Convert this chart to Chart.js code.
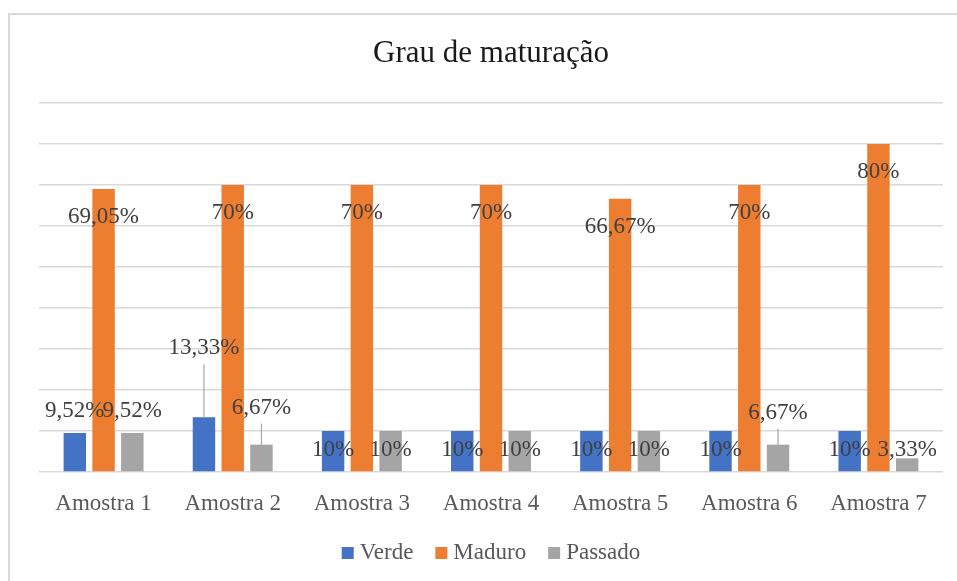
<!DOCTYPE html>
<html>
<head>
<meta charset="utf-8">
<script src="https://cdn.jsdelivr.net/npm/chart.js@4/dist/chart.umd.min.js"></script>
<style>
  html,body{margin:0;padding:0;background:#fff;}
  #wrap{width:957px;height:581px;}
</style>
</head>
<body>
<div id="wrap"><canvas id="chart" width="957" height="581"></canvas></div>
<script>
// dados
const amostras = ["Amostra 1","Amostra 2","Amostra 3","Amostra 4","Amostra 5","Amostra 6","Amostra 7"];
const verde   = [9.52, 13.33, 10, 10, 10, 10, 10];
const maduro  = [69.05, 70, 70, 70, 66.67, 70, 80];
const passado = [9.52, 6.67, 10, 10, 10, 6.67, 3.33];
const yTicks  = [0, 10, 20, 30, 40, 50, 60, 70, 80, 90];

// deslocamento do rótulo em relação ao topo da barra (px) e linha de chamada
const labelDy = [
  [-22, -69, 19, 19, 19, 19, 19],
  [28, 28, 28, 28, 28, 28, 28],
  [-22, -37, 19, 19, 19, -32, -8]
];
const leader = [
  [0,1,0,0,0,0,0],
  [0,0,0,0,0,0,0],
  [0,1,0,0,0,1,0]
];

const SERIF = "'Liberation Serif','Times New Roman',serif";
const fmt = v => Number.isInteger(v) ? v+"%" : v.toFixed(2).replace(".",",")+"%";

const extras = {
  id:"extras",
  beforeDraw(c){
    const ctx=c.ctx; ctx.save();
    ctx.fillStyle="#fff"; ctx.fillRect(0,0,c.width,c.height);
    ctx.strokeStyle="#d9d9d9"; ctx.lineWidth=2;
    ctx.strokeRect(9,14,1200,1200);
    ctx.restore();
  },
  afterDraw(c){
    const ctx=c.ctx, a=c.chartArea; ctx.save();
    // título
    ctx.fillStyle="#1a1a1a"; ctx.font="31px "+SERIF;
    ctx.textAlign="center"; ctx.textBaseline="middle";
    ctx.fillText("Grau de maturação",(a.left+a.right)/2,54);
    // rótulos de dados
    ctx.font="23px "+SERIF; ctx.fillStyle="#404040";
    c.data.datasets.forEach((ds,di)=>{
      c.getDatasetMeta(di).data.forEach((bar,i)=>{
        const y=bar.y+labelDy[di][i];
        if(leader[di][i]){
          ctx.strokeStyle="#a6a6a6"; ctx.lineWidth=1.2;
          ctx.beginPath(); ctx.moveTo(bar.x,y+16); ctx.lineTo(bar.x,bar.y); ctx.stroke();
        }
        ctx.fillText(fmt(ds.data[i]),bar.x,y);
      });
    });
    // legenda
    ctx.font="23px "+SERIF; ctx.textAlign="left";
    const box=12, gap=6, sep=22, ly=553;
    const ws=c.data.datasets.map(ds=>ctx.measureText(ds.label).width);
    const total=ws.reduce((s,w)=>s+box+gap+w,0)+sep*(ws.length-1);
    let x=(a.left+a.right)/2-total/2;
    c.data.datasets.forEach((ds,i)=>{
      ctx.fillStyle=ds.backgroundColor; ctx.fillRect(x,ly-6,box,box);
      x+=box+gap; ctx.fillStyle="#595959"; ctx.fillText(ds.label,x,ly);
      x+=ws[i]+sep;
    });
    ctx.restore();
  }
};

new Chart(document.getElementById("chart"),{
  type:"bar",
  data:{ labels:amostras, datasets:[
    {label:"Verde", data:verde, backgroundColor:"#4472C4"},
    {label:"Maduro", data:maduro, backgroundColor:"#ED7D31"},
    {label:"Passado", data:passado, backgroundColor:"#A5A5A5"}
  ]},
  options:{
    responsive:false, animation:false, events:[],
    layout:{padding:{left:39,right:14,top:103,bottom:0}},
    datasets:{bar:{categoryPercentage:0.668,barPercentage:0.78}},
    plugins:{legend:{display:false},title:{display:false},tooltip:{enabled:false}},
    scales:{
      x:{ grid:{display:false,drawTicks:false}, border:{display:false},
          ticks:{color:"#595959",font:{family:SERIF,size:23},padding:18},
          afterFit:s=>{s.height=109;} },
      y:{ min:0, max:90, border:{display:false},
          grid:{color:"#d9d9d9",lineWidth:1.5,drawTicks:false},
          afterBuildTicks:s=>{s.ticks=yTicks.map(v=>({value:v}));},
          ticks:{display:false},
          afterFit:s=>{s.width=0;} }
    }
  },
  plugins:[extras]
});
</script>
</body>
</html>
